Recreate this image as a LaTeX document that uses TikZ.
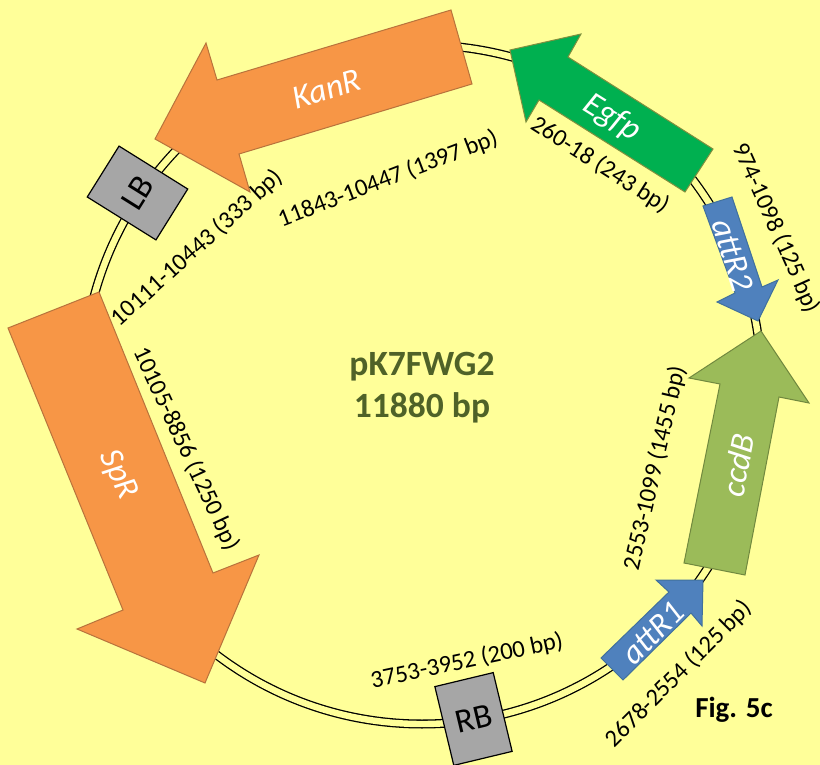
\documentclass[tikz,border=0pt]{standalone}
\usepackage{fontspec}
\setmainfont{Carlito}
\definecolor{paleyellow}{HTML}{FFFF99}
\definecolor{kanorange}{HTML}{F79646}
\definecolor{kanedge}{HTML}{B8733C}
\definecolor{egfpgreen}{HTML}{00B050}
\definecolor{egfpedge}{HTML}{7F8F3F}
\definecolor{attblue}{HTML}{4F81BD}
\definecolor{attedge}{HTML}{41719C}
\definecolor{ccdolive}{HTML}{9BBB59}
\definecolor{ccdedge}{HTML}{71893F}
\definecolor{titlegreen}{HTML}{4F6228}
\tikzset{
  geneorange/.style={fill=kanorange,draw=kanedge,line width=1pt},
  genegreen/.style={fill=egfpgreen,draw=egfpedge,line width=1pt},
  geneblue/.style={fill=attblue,draw=attedge,line width=1pt},
  geneolive/.style={fill=ccdolive,draw=ccdedge,line width=1pt},
  genename/.style={text=white,font=\fontsize{33.5}{35}\selectfont\itshape,inner sep=0pt},
  spanlabel/.style={font=\fontsize{24.5}{26}\selectfont,inner sep=0pt},
  border/.style={draw=black,fill=black!35,line width=1.2pt,minimum width=60pt,
    minimum height=81pt,inner sep=0pt,font=\fontsize{34}{36}\selectfont},
}
\begin{document}
\begin{tikzpicture}[x=1pt,y=-1pt]
  \useasboundingbox (0,0) rectangle (820,765);
  \fill[paleyellow] (0,0) rectangle (820,765);

  \coordinate (centre) at (422,384.5);
  \draw[line width=1.3pt,double=paleyellow,double distance=6.4pt] (centre) circle (339.5pt);

  \draw[geneorange] (451,10) -- (472,84) -- (239,154) -- (250,192) -- (155,139) --
    (206,43) -- (217,80) -- cycle;
  \draw[geneorange] (8,328) -- (99,292) -- (213,573) -- (259,555) -- (205,683) --
    (77,629) -- (123,610) -- cycle;
  \draw[genegreen] (510,50) -- (581,34) -- (568,57) -- (713,149) -- (685,192) --
    (539,100) -- (526,122) -- cycle;
  \draw[geneblue] (703,206) -- (732,197) -- (762,287) -- (778,280) -- (758,321) --
    (717,302) -- (735,293) -- cycle;
  \draw[geneolive] (761,331) -- (809,403) -- (779,397) -- (745,575) -- (684,563) --
    (720,384) -- (689,378) -- cycle;
  \draw[geneblue] (601,658) -- (669,592) -- (656,580) -- (703,580) -- (702,626) --
    (691,613) -- (623,680) -- cycle;

  \node[border,rotate=58] (lb) at (137.5,193) {LB};
  \node[border,rotate=13.5] (rb) at (473.5,719) {RB};

  \node[genename,rotate=17] (kanr) at (327,89) {KanR};
  \node[genename,rotate=-65] (spr) at (118,475) {SpR};
  \node[genename,rotate=-32] (egfp) at (612,118) {Egfp};
  \node[genename,rotate=-72] (attrtwo) at (733,255) {attR2};
  \node[genename,rotate=79] (ccdb) at (738,465) {ccdB};
  \node[genename,rotate=45] (attrone) at (653,633) {attR1};

  \node[spanlabel,rotate=21] (kanspan) at (388,179) {11843-10447 (1397 bp)};
  \node[spanlabel,rotate=42] (lbspan) at (197,248) {10111-10443 (333 bp)};
  \node[spanlabel,rotate=-65] (sprspan) at (186,449) {10105-8856 (1250 bp)};
  \node[spanlabel,rotate=-32.5] (egfpspan) at (600,165) {260-18 (243 bp)};
  \node[spanlabel,rotate=-66] (attrtwospan) at (776,228) {974-1098 (125 bp)};
  \node[spanlabel,rotate=77] (ccdbspan) at (655,468) {2553-1099 (1455 bp)};
  \node[spanlabel,rotate=45] (attronespan) at (679,674) {2678-2554 (125 bp)};
  \node[spanlabel,rotate=12] (rbspan) at (467,661) {3753-3952 (200 bp)};

  \node[align=center,text=titlegreen,font=\fontsize{35.5}{42}\selectfont\bfseries] (title)
    at (422,388) {pK7FWG2\\11880 bp};
  \node[font=\fontsize{29}{31}\selectfont\bfseries] (figlabel) at (734,710) {Fig. 5c};
\end{tikzpicture}
\end{document}
